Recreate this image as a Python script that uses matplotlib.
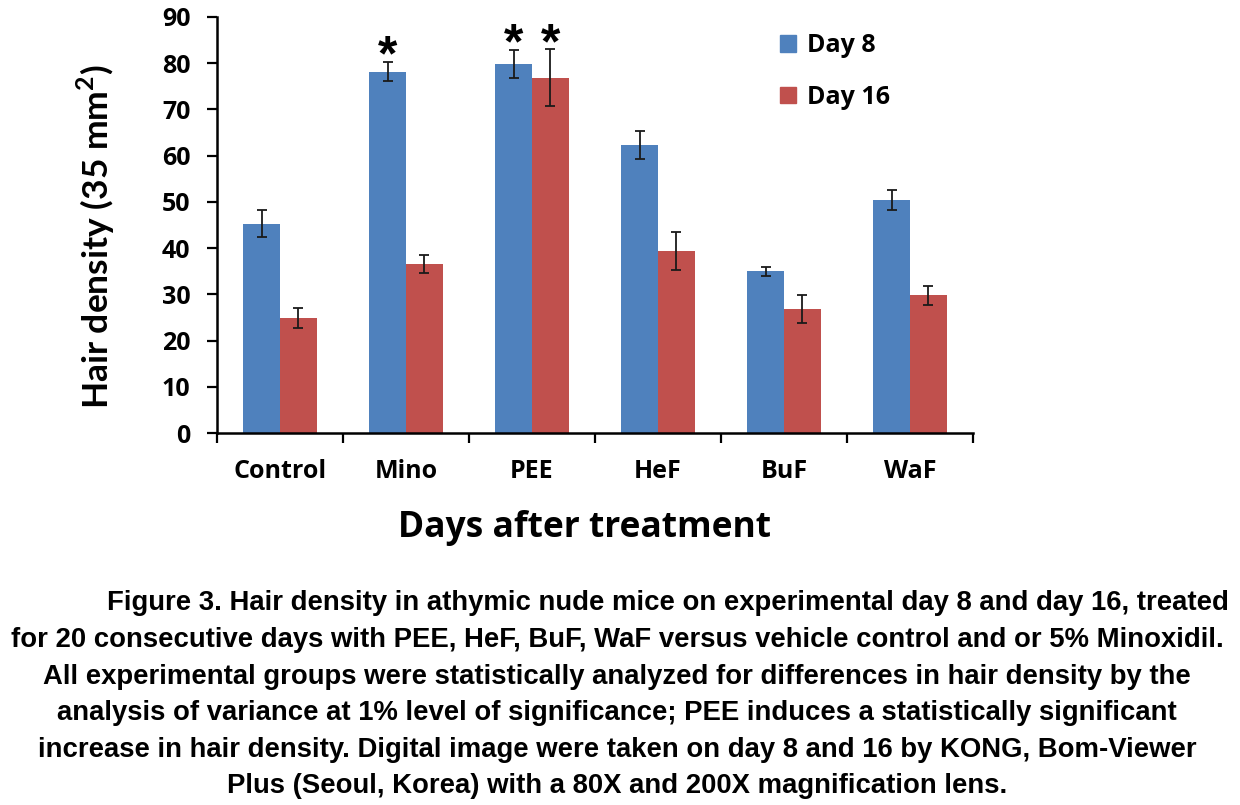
import matplotlib
matplotlib.use("Agg")
import matplotlib.pyplot as plt
import numpy as np
from matplotlib.patches import Patch

categories = ["Control", "Mino", "PEE", "HeF", "BuF", "WaF"]
day8 = [45.3, 78.2, 79.9, 62.3, 35.0, 50.4]
day8_err = [3.0, 2.1, 3.0, 3.0, 1.0, 2.1]
day16 = [24.9, 36.6, 76.9, 39.4, 26.8, 29.8]
day16_err = [2.1, 1.9, 6.1, 4.1, 3.0, 2.0]
sig8 = [False, True, True, False, False, False]
sig16 = [False, False, True, False, False, False]
series_names = ["Day 8", "Day 16"]
yticks = [0, 10, 20, 30, 40, 50, 60, 70, 80, 90]
caption = [
    "Figure 3. Hair density in athymic nude mice on experimental day 8 and day 16, treated",
    "for 20 consecutive days with PEE, HeF, BuF, WaF versus vehicle control and or 5% Minoxidil.",
    "All experimental groups were statistically analyzed for differences in hair density by the",
    "analysis of variance at 1% level of significance; PEE induces a statistically significant",
    "increase in hair density. Digital image were taken on day 8 and 16 by KONG, Bom-Viewer",
    "Plus (Seoul, Korea) with a 80X and 200X magnification lens.",
]

plt.rcParams['mathtext.fontset'] = 'custom'
plt.rcParams['mathtext.rm'] = 'Lato:bold'
plt.rcParams['mathtext.bf'] = 'Lato:bold'

W, H = 1240, 805
fig = plt.figure(figsize=(W / 100, H / 100), dpi=100)
ax = fig.add_axes([217 / W, 1 - 433 / H, (973 - 217) / W, (433 - 17) / H])

blue = "#4F81BD"
red = "#C0504D"
x = np.arange(len(categories))
w = 0.29
ekw = dict(ecolor="#1a1a1a", elinewidth=1.3, capsize=3.3, capthick=1.3)
ax.bar(x - w / 2, day8, w, color=blue, yerr=day8_err, error_kw=ekw, label=series_names[0])
ax.bar(x + w / 2, day16, w, color=red, yerr=day16_err, error_kw=ekw, label=series_names[1])

for i in range(len(categories)):
    if sig8[i]:
        ax.text(x[i] - w / 2, day8[i] + day8_err[i] - 4.0, "*", ha="center", va="bottom",
                fontsize=36, fontweight="bold", family="Liberation Sans")
    if sig16[i]:
        ax.text(x[i] + w / 2, day16[i] + day16_err[i] - 4.0, "*", ha="center", va="bottom",
                fontsize=36, fontweight="bold", family="Liberation Sans")

ax.set_xlim(-0.5, len(categories) - 0.5)
ax.set_ylim(0, 90)
ax.set_yticks(yticks)
ax.set_yticklabels([str(v) for v in yticks], fontsize=18, fontweight="bold", family="Open Sans")
ax.set_xticks(np.arange(-0.5, len(categories), 1.0))
ax.set_xticklabels([])
ax.set_xticks(x, minor=True)
ax.set_xticklabels(categories, minor=True, fontsize=18, fontweight="bold", family="Open Sans")
ax.tick_params(axis="x", which="minor", length=0, pad=19)
ax.tick_params(axis="x", which="major", direction="out", length=7, width=1.6)
ax.tick_params(axis="y", direction="out", length=7, width=1.6, pad=12)
for s in ["top", "right"]:
    ax.spines[s].set_visible(False)
for s in ["left", "bottom"]:
    ax.spines[s].set_linewidth(1.8)

ax.set_ylabel(r"Hair density (35 mm$^{2}$)", fontsize=25.5, fontweight="bold", family="Lato")
ax.yaxis.set_label_coords((117 - 217) / (973 - 217), (433 - 237) / (433 - 17))
ax.set_xlabel("Days after treatment", fontsize=25.5, fontweight="bold", family="Open Sans")
ax.xaxis.set_label_coords((585 - 217) / (973 - 217), -(528 - 433) / (433 - 17))
ax.xaxis.label.set_va("center")

handles = [Patch(color=blue), Patch(color=red)]
fig.legend(handles, series_names, loc="upper left", bbox_to_anchor=(762 / W, 1 - 16 / H),
           frameon=False, prop=dict(family="Open Sans", weight="bold", size=18),
           handlelength=0.65, handleheight=0.65, handletextpad=0.45, labelspacing=1.05,
           borderpad=0.2)

ys = [603, 640, 677, 713, 750, 786]
for i, line in enumerate(caption):
    if i == 0:
        fig.text(107 / W, 1 - ys[i] / H, line, ha="left", va="center", fontsize=19.8,
                 fontweight="bold", family="Liberation Sans")
    else:
        fig.text(617 / W, 1 - ys[i] / H, line, ha="center", va="center", fontsize=19.8,
                 fontweight="bold", family="Liberation Sans")

fig.savefig("out.png", dpi=100)
